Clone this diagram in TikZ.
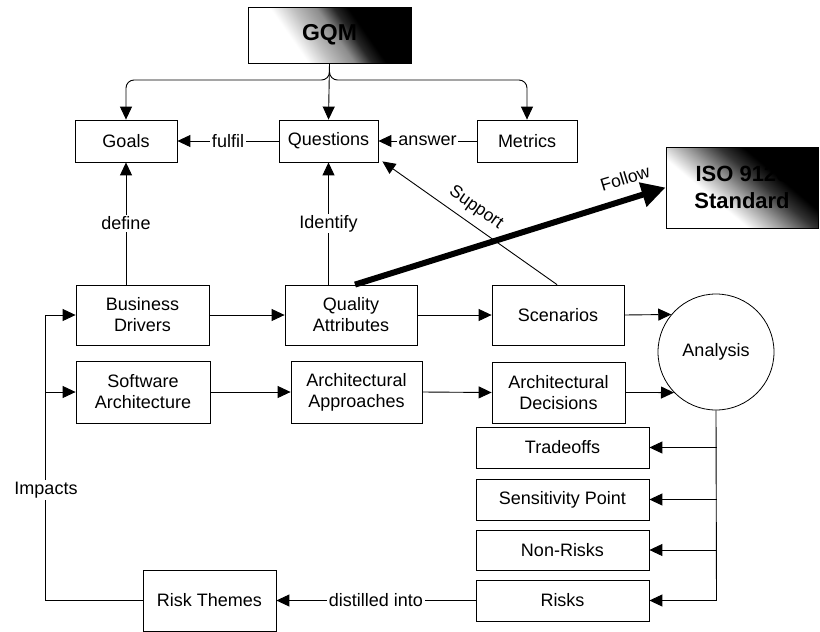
\documentclass[tikz,border=0pt]{standalone}
\usepackage{fontspec}
\setmainfont{Liberation Sans}
\usetikzlibrary{arrows.meta}

% dark fades used behind the two headline boxes
\pgfdeclarehorizontalshading{darkfade}{100bp}{color(0bp)=(white); color(38bp)=(white); color(48bp)=(black!40); color(57bp)=(black!80); color(64bp)=(black); color(100bp)=(black)}
\pgfdeclarehorizontalshading{gqmfade}{100bp}{color(0bp)=(white); color(36bp)=(white); color(44bp)=(black!25); color(52bp)=(black!45); color(58bp)=(black!85); color(63bp)=(black); color(100bp)=(black)}

\tikzset{
  box/.style={draw, line width=0.8pt, inner sep=0pt, align=center,
    font=\fontsize{18}{21}\selectfont},
  headbox/.style={draw, line width=0.8pt, inner sep=0pt, align=center,
    shading=darkfade, shading angle=35,
    font=\fontsize{22}{27}\selectfont\bfseries},
  conn/.style={line width=0.9pt},
  arr/.style={conn, -{Triangle[length=13pt,width=12pt]}},
  lbl/.style={fill=white, inner sep=1.5pt, font=\fontsize{18}{20}\selectfont},
  slbl/.style={inner sep=1pt, font=\fontsize{17.5}{19}\selectfont},
}

\begin{document}
\begin{tikzpicture}[x=1pt, y=-1pt]
\useasboundingbox (0,0) rectangle (820,632);

% --- GQM layer
\node[headbox, shading=gqmfade, shading angle=35, minimum width=163pt, minimum height=56pt,
      font=\fontsize{23}{27}\selectfont\bfseries] (gqm) at (329.5,35) {GQM};
\node[box, minimum width=102pt, minimum height=42pt] (goals) at (126,141) {Goals};
\node[box, minimum width=99pt, minimum height=42pt] (quest) at (328.5,141) {Questions};
\node[box, minimum width=100pt, minimum height=42pt] (metrics) at (527,141) {Metrics};

% --- standard
\node[headbox, minimum width=152pt, minimum height=81pt, shading angle=50] (iso) at (742,187.5) {ISO 9126\\Standard};

% --- main rows
\node[box, minimum width=133pt, minimum height=60pt] (bd) at (142.5,315) {Business\\Drivers};
\node[box, minimum width=132pt, minimum height=60pt] (qa) at (351,315) {Quality\\Attributes};
\node[box, minimum width=132pt, minimum height=60pt] (scen) at (558,315) {Scenarios};
\node[box, minimum width=134pt, minimum height=62pt] (sa) at (143,392) {Software\\Architecture};
\node[box, minimum width=131pt, minimum height=62pt] (aa) at (356.5,392) {Architectural\\Approaches};
\node[box, minimum width=133pt, minimum height=61pt] (ad) at (558.5,392.5) {Architectural\\Decisions};
\node[box, circle, minimum size=116pt] (analysis) at (716,352) {Analysis};

% --- analysis outputs
\node[box, minimum width=173pt, minimum height=41pt] (trade) at (562.5,447.5) {Tradeoffs};
\node[box, minimum width=173pt, minimum height=41pt] (sens) at (562.5,499.5) {Sensitivity Point};
\node[box, minimum width=173pt, minimum height=40pt] (nonrisk) at (562.5,550) {Non-Risks};
\node[box, minimum width=173pt, minimum height=41pt] (risks) at (562.5,600.5) {Risks};
\node[box, minimum width=133pt, minimum height=61pt] (themes) at (209.5,600.5) {Risk Themes};

% --- GQM fan-out
\coordinate (gqmbus) at (329.5,80);
\draw[arr, rounded corners=8pt] (gqm.south) |- (goals.north |- gqmbus) -- (goals.north);
\draw[arr, rounded corners=8pt] (gqm.south) |- (metrics.north |- gqmbus) -- (metrics.north);
\draw[arr] (gqm.south) -- (quest.north);

% --- GQM relations
\draw[arr] (quest.west) -- node[lbl] {fulfil} (goals.east);
\draw[arr] (metrics.west) -- node[lbl] {answer} (quest.east);
\draw[arr] (goals.south |- bd.north) -- node[lbl] {define} (goals.south);
\draw[arr] (quest.south |- qa.north) -- node[lbl] {Identify} (quest.south);

% --- support and follow
\draw[conn, -{Triangle[length=13pt,width=12pt]}] ([xshift=-1pt]scen.north) -- ([shift={(4pt,1pt)}]quest.south east);
\node[slbl, rotate=-35] (supportlbl) at (476,208) {Support};
\draw[line width=6pt, -{Triangle[length=24pt,width=24pt]}] ([xshift=4pt]qa.north) -- (iso.west);
\node[slbl, rotate=17] (followlbl) at (625,178) {Follow};

% --- row flows
\draw[arr] (bd.east) -- (qa.west);
\draw[arr] (qa.east) -- (scen.west);
\draw[arr] (scen.east) -- (analysis.140);
\draw[arr] (sa.east) -- (aa.west);
\draw[arr] (aa.east) -- (ad.west);
\draw[arr] (ad.east) -- (analysis.224);

% --- analysis bus
\coordinate (abus) at (716.5,0);
\draw[conn] (analysis.south) -- (abus |- risks.east);
\draw[arr] (abus |- trade.east) -- (trade.east);
\draw[arr] (abus |- sens.east) -- (sens.east);
\draw[arr] (abus |- nonrisk.east) -- (nonrisk.east);
\draw[arr] (abus |- risks.east) -- (risks.east);

% --- risk feedback
\draw[arr] (risks.west) -- node[lbl] {distilled into} (themes.east);
\coordinate (loop) at (45,315);
\draw[arr] (themes.west) -| (loop) -- (bd.west);
\draw[arr] (sa.west -| loop) -- (sa.west);
\node[lbl] (impacts) at (46,490) {Impacts};

\end{tikzpicture}
\end{document}
